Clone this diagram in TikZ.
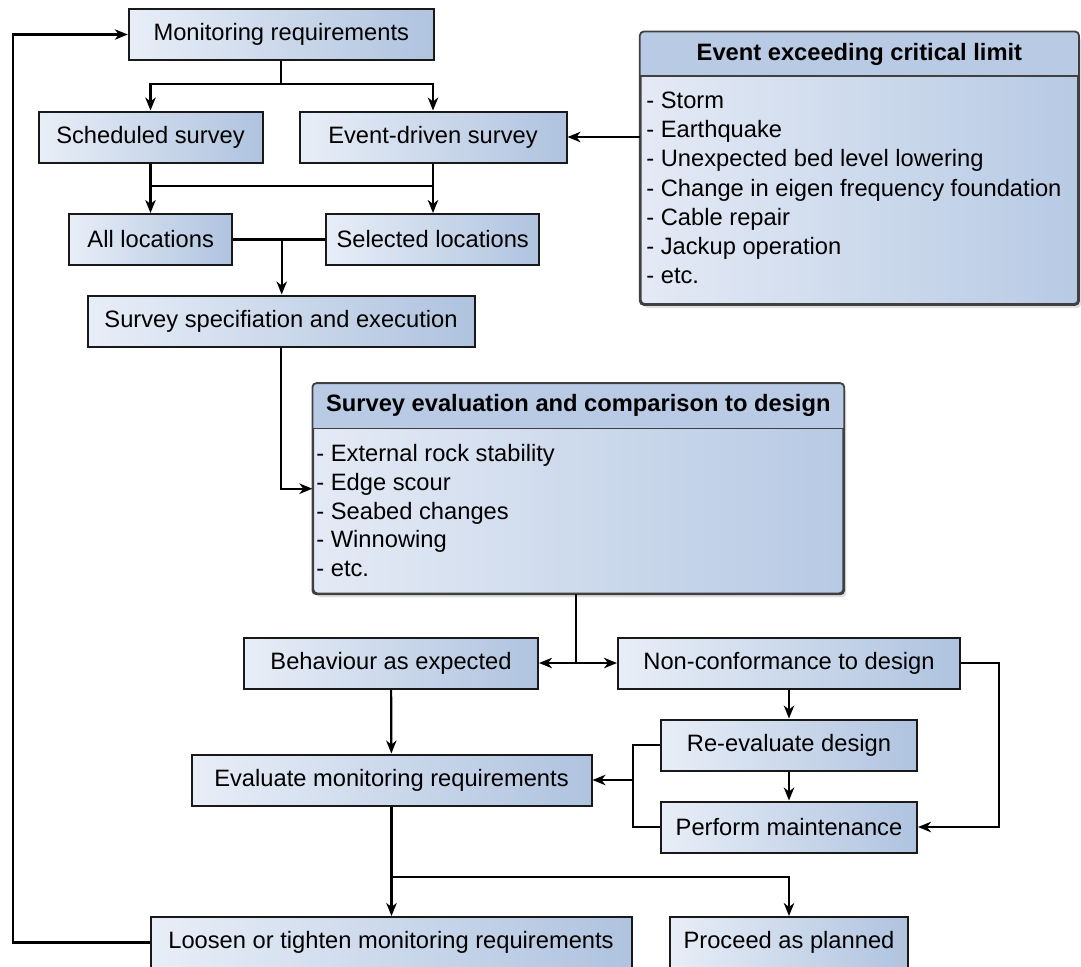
\documentclass[tikz,border=0pt]{standalone}
\usepackage{fontspec}
\setmainfont{Liberation Sans}
\usepackage{tikz}
\usetikzlibrary{arrows.meta, positioning, calc, shadows}

\definecolor{boxlight}{HTML}{E8EEF7}
\definecolor{boxdark}{HTML}{AFC3DF}
\definecolor{panellight}{HTML}{E4EAF5}
\definecolor{paneldark}{HTML}{B7CAE4}
\definecolor{headblue}{HTML}{B9CBE4}

\tikzset{
  stepbox/.style={draw=black!90, line width=1pt, left color=boxlight, right color=boxdark,
    minimum height=25.5pt, inner sep=0pt},
  panel/.style={draw=black!75, line width=0.9pt, rounded corners=2pt,
    left color=panellight, right color=paneldark,
    drop shadow={opacity=0.25, shadow xshift=1.5pt, shadow yshift=-2pt}},
  link/.style={line width=1.1pt, black},
  flow/.style={link, -{Stealth[length=6.5pt, width=5.2pt, inset=2pt]}},
}

\begin{document}
\begin{tikzpicture}[x=0.5pt, y=-0.5pt, font=\fontsize{11.85}{14.6}\selectfont]
  \useasboundingbox (0,0) rectangle (1081,966);

  % main flow boxes
  \node[stepbox, minimum width=152.5pt] (mon) at (281.3,34.5) {Monitoring requirements};
  \node[stepbox, minimum width=112pt] (sched) at (150.5,137) {Scheduled survey};
  \node[stepbox, minimum width=133.5pt] (evsurv) at (433,137) {Event-driven survey};
  \node[stepbox, minimum width=81.5pt] (allloc) at (150.7,239.5) {All locations};
  \node[stepbox, minimum width=106.5pt] (selloc) at (432.7,239.5) {Selected locations};
  \node[stepbox, minimum width=193.5pt] (spec) at (281,321) {Survey specifiation and execution};
  \node[stepbox, minimum width=147pt] (behav) at (391,663) {Behaviour as expected};
  \node[stepbox, minimum width=171pt] (noncon) at (789,663) {Non-conformance to design};
  \node[stepbox, minimum width=128pt] (reeval) at (789,745) {Re-evaluate design};
  \node[stepbox, minimum width=128pt] (maint) at (789,827) {Perform maintenance};
  \node[stepbox, minimum width=200pt] (evalreq) at (391.5,780) {Evaluate monitoring requirements};
  \node[stepbox, minimum width=240.5pt] (loosen) at (391,942.5) {Loosen or tighten monitoring requirements};
  \node[stepbox, minimum width=119pt] (proceed) at (789,942.5) {Proceed as planned};

  % panel: triggering events
  \node[panel, minimum width=218.7pt, minimum height=135.8pt] (event) at (859.4,168.2) {};
  \begin{scope}
    \clip[rounded corners=2pt] (event.north west) rectangle (event.south east);
    \fill[headblue] (event.north west) rectangle (event.east |- 0,76);
  \end{scope}
  \draw[black!75, line width=0.9pt, rounded corners=2pt] (event.north west) rectangle (event.south east);
  \draw[black!75, line width=0.75pt] (event.west |- 0,76) -- (event.east |- 0,76);
  \node[font=\fontsize{11.85}{14.6}\selectfont\bfseries] (eventhead) at (859.4,54) {Event exceeding critical limit};
  \foreach \what [count=\i] in {Storm, Earthquake, Unexpected bed level lowering,
      Change in eigen frequency foundation, Cable repair, Jackup operation, etc.} {
    \node[anchor=base west, inner sep=0pt] (ev\i) at (646,79.3+\i*29.2) {- \what};
  }

  % panel: evaluation
  \node[panel, minimum width=265pt, minimum height=104.7pt] (eval) at (578.3,488.7) {};
  \begin{scope}
    \clip[rounded corners=2pt] (eval.north west) rectangle (eval.south east);
    \fill[headblue] (eval.north west) rectangle (eval.east |- 0,428.3);
  \end{scope}
  \draw[black!75, line width=0.9pt, rounded corners=2pt] (eval.north west) rectangle (eval.south east);
  \draw[black!75, line width=0.75pt] (eval.west |- 0,428.3) -- (eval.east |- 0,428.3);
  \node[font=\fontsize{11.85}{14.6}\selectfont\bfseries] (evalhead) at (578.3,405.5) {Survey evaluation and comparison to design};
  \foreach \what [count=\i] in {External rock stability, Edge scour, Seabed changes, Winnowing, etc.} {
    \node[anchor=base west, inner sep=0pt] (sv\i) at (316,432.3+\i*28.9) {- \what};
  }

  % connectors
  \coordinate (split1) at (281.3,84);
  \draw[link] (mon) -- (split1);
  \draw[flow] (split1) -| (sched);
  \draw[flow] (split1) -| (evsurv);

  \coordinate (split2) at (281,185.7);
  \draw[link] (sched.south) -- (sched.south |- split2) -- (evsurv.south |- split2) -- (evsurv.south);
  \draw[flow] (sched.south |- split2) -- (sched.south |- allloc.north);
  \draw[flow] (evsurv.south |- split2) -- (evsurv.south |- selloc.north);

  \coordinate (join) at (281.7,239.5);
  \draw[link] (allloc.east) -- (selloc.west);
  \draw[flow] (join) -- (join |- spec.north);
  \draw[flow] (spec.south) |- (eval.west);

  \draw[flow] (event.west |- evsurv) -- (evsurv.east);

  \coordinate (fork) at (576,663);
  \draw[link] (eval.south -| fork) -- (fork);
  \draw[flow] (fork) -- (behav.east);
  \draw[flow] (fork) -- (noncon.west);

  \draw[flow] (behav) -- (evalreq);
  \draw[flow] (noncon) -- (reeval);
  \draw[flow] (reeval) -- (maint);
  \draw[flow] (noncon.east) -- ++(38.3,0) |- (maint.east);

  \coordinate (back) at (633,780);
  \draw[link] (reeval.west) -- (reeval.west -| back) -- (maint.west -| back) -- (maint.west);
  \draw[flow] (back) -- (evalreq.east);

  \coordinate (split3) at (391.5,877.3);
  \draw[link] (evalreq.south) -- (split3);
  \draw[flow] (split3) -- (split3 |- loosen.north);
  \draw[flow] (split3) -| (proceed);

  % feedback loop
  \coordinate (loop) at (13.3,500);
  \draw[flow] (loosen.west) -| (loop) |- (mon.west);
\end{tikzpicture}
\end{document}
